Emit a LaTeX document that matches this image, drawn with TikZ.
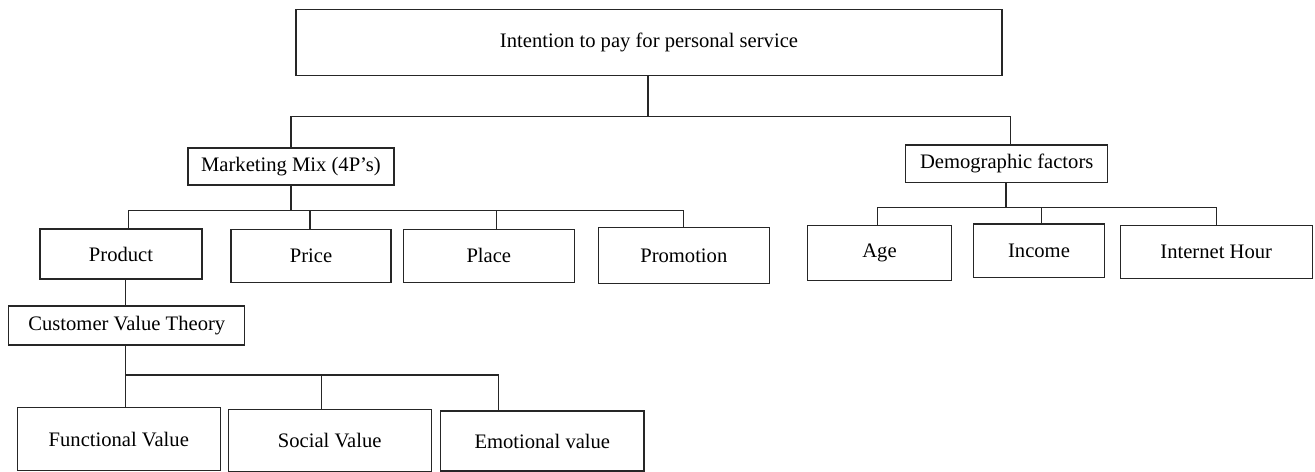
\documentclass[tikz,border=0pt]{standalone}
\usepackage{fontspec}
\setmainfont{Liberation Serif}
\begin{document}
\begin{tikzpicture}[x=1bp,y=-1bp,
  box/.style={draw=black!85, line width=1.1bp, inner sep=0pt, align=center,
    font=\fontsize{20.6bp}{24bp}\selectfont},
  link/.style={draw=black!85, line width=1.1bp}]
\useasboundingbox (0,0) rectangle (1315,472);
% nodes
\node[box, minimum width=706bp, minimum height=66bp] (top) at (649,42.3) {Intention to pay for personal service};
\node[box, minimum width=206bp, minimum height=37bp] (mm) at (291,166.5) {Marketing Mix (4P’s)};
\node[box, minimum width=202bp, minimum height=37.3bp] (dem) at (1006.7,163.7) {Demographic factors};
\node[box, minimum width=162bp, minimum height=50bp] (prod) at (121,254) {Product};
\node[box, minimum width=160bp, minimum height=53bp] (price) at (311,255.6) {Price};
\node[box, minimum width=171bp, minimum height=53bp] (place) at (488.8,255.6) {Place};
\node[box, minimum width=171bp, minimum height=56.4bp] (promo) at (683.8,255.5) {Promotion};
\node[box, minimum width=144.4bp, minimum height=55bp] (age) at (879.5,253.2) {Age};
\node[box, minimum width=130.6bp, minimum height=53.3bp] (inc) at (1039,250.7) {Income};
\node[box, minimum width=192.3bp, minimum height=53.3bp] (net) at (1216.2,252.3) {Internet Hour};
\node[box, minimum width=235.7bp, minimum height=39bp] (cvt) at (126.8,325.5) {Customer Value Theory};
\node[box, minimum width=203bp, minimum height=63bp] (fv) at (118.8,439.2) {Functional Value};
\node[box, minimum width=202.7bp, minimum height=61.7bp] (sv) at (329.7,440.2) {Social Value};
\node[box, minimum width=203.3bp, minimum height=60bp] (ev) at (542.3,441) {Emotional value};
% junction coordinates
\coordinate (j0) at (648,116.7);
\coordinate (h1) at (0,210.7);
\coordinate (h2) at (0,207.3);
\coordinate (h3) at (0,375);
% top level
\draw[link] ([xshift=-1bp]top.south) -- (j0);
\draw[link] (mm.north) |- (j0) -| ([xshift=4bp]dem.north);
% marketing mix
\draw[link] (mm.south) -- (mm.south |- h1);
\draw[link] ([xshift=7.3bp]prod.north) |- (h1 -| promo.north) -- (promo.north);
\draw[link] ([xshift=-1bp]price.north) -- ([xshift=-1bp]price.north |- h1);
\draw[link] ([xshift=7.5bp]place.north) -- ([xshift=7.5bp]place.north |- h1);
% demographic
\draw[link] ([xshift=-0.7bp]dem.south) -- ([xshift=-0.7bp]dem.south |- h2);
\draw[link] ([xshift=-2.2bp]age.north) |- (h2 -| net.north) -- (net.north);
\draw[link] ([xshift=2.7bp]inc.north) -- ([xshift=2.7bp]inc.north |- h2);
% product -> customer value theory
\draw[link] ([xshift=-1.5bp]cvt.north) -- ([xshift=-1.5bp]cvt.north |- prod.south);
% customer value theory children
\draw[link] ([xshift=-1.5bp]cvt.south) -- ([xshift=-1.5bp]cvt.south |- fv.north);
\draw[link] ([xshift=-1.5bp]cvt.south |- h3) -| ([xshift=-44bp]ev.north);
\draw[link] ([xshift=-8bp]sv.north) -- ([xshift=-8bp]sv.north |- h3);
\end{tikzpicture}
\end{document}
